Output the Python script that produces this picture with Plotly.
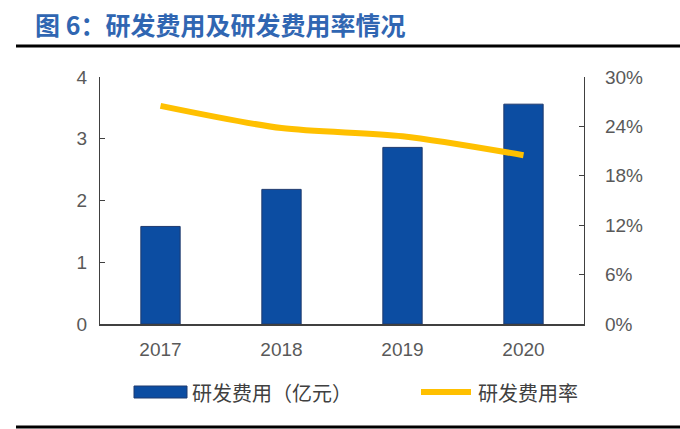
import plotly.graph_objects as go

years = ["2017", "2018", "2019", "2020"]
rd_expense = [1.58, 2.18, 2.86, 3.56]          # 亿元
rd_ratio = [0.265, 0.238, 0.228, 0.205]        # 研发费用率

W, H = 680, 429
L, R, T, B = 100, 584, 77, 324  # plot area px

def px_x(x):
    return (x - L) / (R - L)

def px_y(y):
    return (B - y) / (B - T)

bar_color = "#0C4DA2"
line_color = "#FFC000"
tick_font = dict(family="Liberation Sans, Arial", size=19, color="#595959")
axis_col = "#404040"

fig = go.Figure()
fig.add_trace(go.Bar(
    x=years, y=rd_expense, name="研发费用（亿元）",
    marker=dict(color=bar_color, line=dict(color="#1F3A6E", width=1)),
    width=0.325, showlegend=False,
))
fig.add_trace(go.Scatter(
    x=years, y=rd_ratio, name="研发费用率", yaxis="y2", mode="lines",
    line=dict(color=line_color, width=6, shape="spline", smoothing=0.8),
    showlegend=False,
))

fig.update_layout(
    width=W, height=H,
    margin=dict(l=L, r=W - R, t=T, b=H - B),
    paper_bgcolor="white", plot_bgcolor="white",
    xaxis=dict(showline=True, linecolor=axis_col, linewidth=1.5, ticks="",
               tickfont=tick_font, showgrid=False, ticklabelstandoff=7),
    yaxis=dict(range=[0, 4], dtick=1, showline=True, linecolor=axis_col, linewidth=1.2,
               ticks="inside", ticklen=5, tickcolor=axis_col, showgrid=False,
               zeroline=False, tickfont=tick_font, ticklabelstandoff=8),
    yaxis2=dict(range=[0, 0.30], dtick=0.06, tickformat=".0%", overlaying="y", side="right",
                showline=True, linecolor=axis_col, linewidth=1.2, ticks="inside", ticklen=5,
                tickcolor=axis_col, showgrid=False, zeroline=False, tickfont=tick_font,
                ticklabelstandoff=16),
    title=dict(text="<b>图 6：研发费用及研发费用率情况</b>", x=35 / W, xanchor="left",
               y=1 - 26 / H, yanchor="middle", xref="container", yref="container",
               font=dict(family="Noto Sans CJK SC", size=25, color="#3066B2")),
)

# decorative rules
for yy in (46, 427):
    fig.add_shape(type="line", xref="paper", yref="paper",
                  x0=px_x(16), x1=px_x(680), y0=px_y(yy), y1=px_y(yy),
                  line=dict(color="black", width=3))

# manual legend
leg_y = 392
fig.add_shape(type="rect", xref="paper", yref="paper",
              x0=px_x(134), x1=px_x(187), y0=px_y(leg_y + 6), y1=px_y(leg_y - 6),
              fillcolor=bar_color, line=dict(color="#1F3A6E", width=1))
fig.add_shape(type="line", xref="paper", yref="paper",
              x0=px_x(421), x1=px_x(471), y0=px_y(leg_y), y1=px_y(leg_y),
              line=dict(color=line_color, width=6))
legend_font = dict(family="Noto Sans CJK SC", size=20, color="#404040")
fig.add_annotation(text="研发费用（亿元）", xref="paper", yref="paper",
                   x=px_x(190), y=px_y(leg_y), xanchor="left", yanchor="middle",
                   showarrow=False, font=legend_font)
fig.add_annotation(text="研发费用率", xref="paper", yref="paper",
                   x=px_x(476), y=px_y(leg_y), xanchor="left", yanchor="middle",
                   showarrow=False, font=legend_font)

fig.write_html("out.html", config={"displayModeBar": False},
               post_script="document.body.style.margin='0';document.body.style.overflow='hidden';")
